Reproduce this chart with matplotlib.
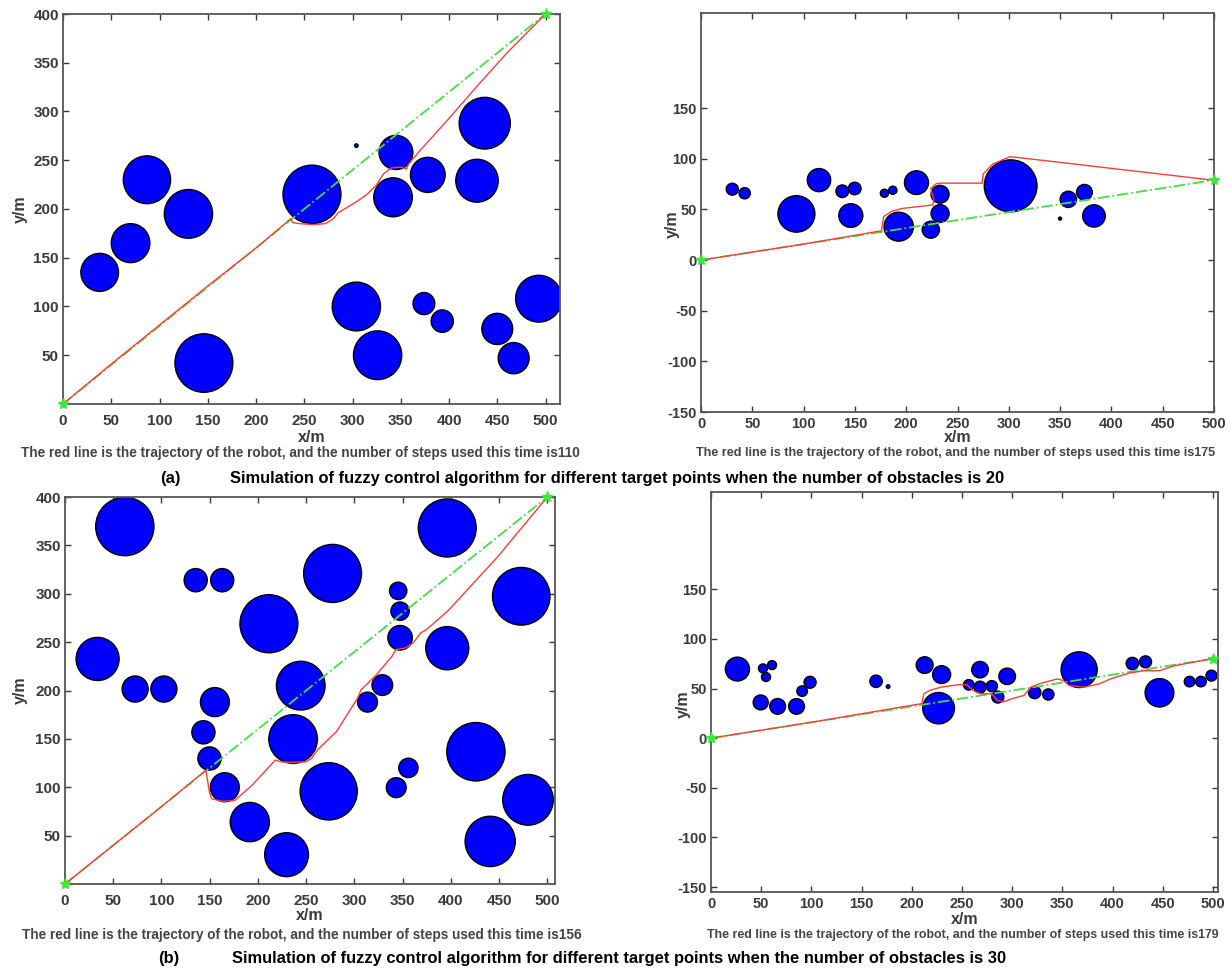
import matplotlib
matplotlib.use("Agg")
import matplotlib.pyplot as plt
from matplotlib.patches import Circle

plt.rcParams["axes.unicode_minus"] = False
font = "Liberation Sans"

# ---- data: obstacles (x, y, r) and trajectories ----
obs_a1 = [(38, 135, 19.5), (70, 165, 20), (87, 230, 24.5), (130, 195, 25), (146, 42, 30),
          (258, 215, 30), (304, 100, 25), (326, 50, 25), (345, 258, 17.5), (342, 212, 20),
          (378, 235, 18), (437, 288, 26.5), (429, 229, 22), (374, 103, 11.3), (393, 85, 11.5),
          (450, 77, 16), (467, 47, 16), (493, 108, 24), (304, 265, 1.8)]
path_a1_x = [0, 50, 100, 150, 200, 230, 236, 238, 245, 260, 272, 280, 285, 295, 305, 315,
             325, 332, 340, 350, 356, 358, 370, 400, 430, 460, 490, 500]
path_a1_y = [0, 41, 81, 121, 160, 185, 190, 186, 185, 184, 185, 190, 196, 202, 208, 215,
             225, 236, 242, 243, 241, 246, 260, 293, 327, 360, 390, 400]
goal_a1 = (500, 400)

obs_a2 = [(30.5, 70, 5.9), (42.6, 66, 5.5), (93, 45.6, 18), (115, 79, 11.4), (137.7, 68, 6.2),
          (149.8, 70.7, 6.2), (146, 44, 11.7), (178.8, 66, 4), (187, 69, 4), (210, 76.5, 11.7),
          (233, 65, 8.8), (233, 46, 8.8), (224, 30, 8.4), (192.7, 33, 14.3), (301.8, 73.3, 25.7),
          (358, 60, 8), (373.7, 67, 7.7), (383, 43.6, 11), (350, 41, 1.5)]
path_a2_x = [0, 100, 176, 178, 185.6, 196, 225.8, 227, 224, 229.5, 235, 274, 275, 284.5,
             301, 306.5, 500]
path_a2_y = [0, 15.8, 29, 43, 48, 51, 54.4, 59, 70.7, 75.6, 76, 76, 85, 95, 102, 101.6, 78.8]
goal_a2 = (500, 79)

obs_b1 = [(62, 369.5, 30.2), (33.8, 232.6, 22.3), (72.7, 201.5, 13.5), (102.5, 201.5, 13.5),
          (135.5, 314, 12), (163, 314, 12), (155.4, 188, 15), (143.5, 156.8, 12),
          (149.8, 129.7, 12), (165.7, 100, 15), (191.6, 64, 20.3), (229.7, 30.3, 22.7),
          (211.4, 269, 30), (277.4, 321, 30), (244.4, 205, 25.2), (236.5, 149.8, 25.2),
          (273.4, 95.8, 29.6), (345.4, 303, 9), (347.4, 282, 9.5), (347.4, 254.5, 12.7),
          (329, 205.6, 10.7), (313.6, 188, 10.3), (356, 120, 10), (343.4, 99.6, 10.3),
          (396.3, 368, 30), (473, 297.4, 29.8), (396.3, 243.7, 22.3), (426, 136.7, 30.2),
          (480, 87, 26.2), (440.8, 44, 26)]
path_b1_x = [0, 50, 100, 146, 149.8, 152, 164, 176, 182, 193.9, 209.9, 218, 223.8, 234,
             249.6, 255.6, 261.5, 281.4, 303.3, 307, 323, 339, 343, 353, 361, 369, 374.8,
             396.7, 448, 500]
path_b1_y = [0, 40, 80, 117.6, 95, 88, 85.4, 86.4, 91.6, 102, 119.3, 128, 126.3, 125.6,
             126.3, 129.7, 138.4, 157.5, 192, 200.8, 216.4, 235.4, 242.3, 244, 249.3, 259.7,
             263, 282, 337.6, 400]
goal_b1 = (500, 400)

obs_b2 = [(26.3, 69.6, 12), (51.8, 70.3, 4.5), (60.8, 73.6, 4.5), (54.8, 61.6, 4.5),
          (49.5, 36, 7.5), (66.4, 32, 7.9), (85.2, 32, 7.9), (90.8, 47.4, 5.3), (98.7, 56.3, 6),
          (164.4, 57.3, 6.2), (176.4, 52, 1.8), (212.8, 73.6, 8.4), (229.7, 64, 9),
          (226.7, 30.2, 15.8), (256.8, 53.7, 5.3), (268, 69, 8.3), (268, 51.4, 6),
          (279.7, 52.4, 5.6), (285.7, 41.4, 6), (295, 62.3, 8.3), (322.4, 46, 6.2),
          (336, 44, 5.6), (366.7, 69, 18), (419.7, 75.2, 6.2), (432.8, 76.9, 6),
          (446.7, 45.7, 14.3), (476.7, 57, 5.3), (488, 57, 5.3), (498.5, 63, 5.5)]
path_b2_x = [0, 100, 210, 212, 217.7, 229, 247.7, 255, 261, 268.4, 279.7, 285, 291, 300,
             311.6, 319, 326.6, 345, 351, 356.6, 371.6, 386.6, 398, 416.7, 431.7, 446.7,
             461.7, 500]
path_b2_y = [0, 16, 34.8, 44.7, 48, 51.4, 54, 53.7, 48, 44.7, 44.7, 38, 36.5, 39.8, 43,
             51.4, 54.7, 59.7, 58, 53, 51.4, 54.7, 59.7, 65.6, 68, 68, 73, 80.2]
goal_b2 = (500, 80)

caption_a = "The red line is the trajectory of the robot, and the number of steps used this time is"
steps = [110, 175, 156, 179]
title_a = "Simulation of fuzzy control algorithm for different target points when the number of obstacles is 20"
title_b = "Simulation of fuzzy control algorithm for different target points when the number of obstacles is 30"

W, H = 1230, 972
fig = plt.figure(figsize=(W / 100, H / 100), dpi=100)
tick_col = "#3a3a3a"


def make_ax(box, xlim, ylim, yticks, ylab_x, ylab_y, xlab_dy, xpad, tsize):
    l, t, r, b = box
    ax = fig.add_axes([l / W, 1 - b / H, (r - l) / W, (b - t) / H])
    ax.set_xlim(*xlim)
    ax.set_ylim(*ylim)
    ax.set_xticks(range(0, 501, 50))
    ax.set_yticks(yticks)
    ax.tick_params(direction="in", length=4, width=1, top=True, right=True,
                   colors=tick_col, labelsize=tsize, pad=3)
    ax.tick_params(axis="x", pad=xpad)
    for lab in ax.get_xticklabels() + ax.get_yticklabels():
        lab.set_fontfamily(font)
        lab.set_fontweight("bold")
    for s in ax.spines.values():
        s.set_color("#555555")
        s.set_linewidth(1.3)
    ax.set_xlabel("x/m", fontfamily=font, fontweight="bold", fontsize=11.5, color=tick_col, va="center")
    ax.set_ylabel("y/m", fontfamily=font, fontweight="bold", fontsize=11.5, color=tick_col)
    ax.xaxis.set_label_coords(0.5, -xlab_dy / (b - t))
    ax.yaxis.set_label_coords(ylab_x / (r - l), ylab_y)
    return ax


def draw(ax, obs, px, py, goal):
    for x, y, r in obs:
        ax.add_patch(Circle((x, y), r, facecolor="#0000ff", edgecolor="black", lw=1.0, zorder=2))
    ax.plot([0, goal[0]], [0, goal[1]], ls="-.", color="#44dd44", lw=1.3, zorder=3)
    ax.plot(px, py, color="#ff3b3b", lw=1.0, zorder=4)
    ax.plot([0, goal[0]], [0, goal[1]], ls="none", marker="*", ms=8, color="#33ee33", zorder=5,
            clip_on=False)


ax1 = make_ax((63, 14, 560, 404), (0, 515), (0, 400), range(50, 401, 50), -35, 0.5, 33, 7, 11)
draw(ax1, obs_a1, path_a1_x, path_a1_y, goal_a1)
ax2 = make_ax((701, 13, 1214, 412), (0, 500), (-150, 244), range(-150, 151, 50), -21, 0.47, 26, 3.5, 10.5)
draw(ax2, obs_a2, path_a2_x, path_a2_y, goal_a2)
ax3 = make_ax((65, 497, 555, 884), (0, 508), (0, 400), range(50, 401, 50), -37, 0.5, 31, 7, 11)
draw(ax3, obs_b1, path_b1_x, path_b1_y, goal_b1)
ax4 = make_ax((711, 492, 1218, 892), (0, 505), (-155, 248), range(-150, 151, 50), -20, 0.47, 27, 3.5, 10.5)
draw(ax4, obs_b2, path_b2_x, path_b2_y, goal_b2)

cap_kw = dict(fontfamily=font, fontweight="bold", color="#444444", ha="center", va="center")
fig.text(300 / W, 1 - 453 / H, caption_a + str(steps[0]), fontsize=9.8, **cap_kw)
fig.text(956 / W, 1 - 453 / H, caption_a + str(steps[1]), fontsize=9.1, **cap_kw)
fig.text(302 / W, 1 - 935 / H, caption_a + str(steps[2]), fontsize=9.8, **cap_kw)
fig.text(963 / W, 1 - 935 / H, caption_a + str(steps[3]), fontsize=8.9, **cap_kw)

ttl_kw = dict(fontfamily=font, fontweight="bold", fontsize=11.9, color="black",
              ha="left", va="center")
fig.text(160 / W, 1 - 478 / H, "(a)", **ttl_kw)
fig.text(230 / W, 1 - 478 / H, title_a, **ttl_kw)
fig.text(158 / W, 1 - 958 / H, "(b)", **ttl_kw)
fig.text(232 / W, 1 - 958 / H, title_b, **ttl_kw)

fig.savefig("out.png", dpi=100, facecolor="white")
